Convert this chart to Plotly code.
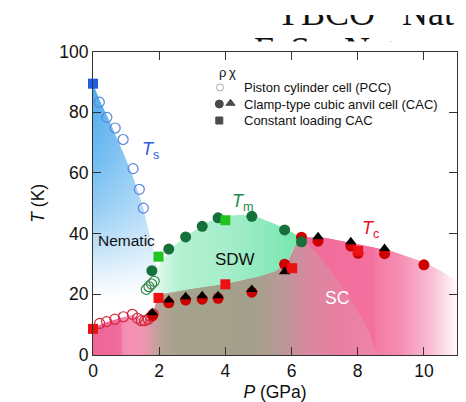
import plotly.graph_objects as go

# ---------------- data ----------------
# Ts, nematic transition
ts_pcc_p = [0.19, 0.42, 0.67, 0.91, 1.21, 1.40, 1.52]
ts_pcc_t = [83.3, 78.3, 74.8, 71.0, 61.4, 54.6, 48.4]
ts_cl_p = [0.0]
ts_cl_t = [89.4]

# Tc from PCC (open red circles)
tc_pcc_p = [0.20, 0.41, 0.66, 0.92, 1.19, 1.34, 1.46, 1.56, 1.67, 1.75, 1.82]
tc_pcc_t = [10.4, 11.0, 11.8, 12.6, 13.4, 12.1, 11.3, 11.3, 11.8, 12.6, 13.5]

# Tm from PCC chi (open green circles)
tm_pcc_p = [1.61, 1.69, 1.77, 1.85]
tm_pcc_t = [21.6, 22.5, 23.4, 24.3]

# Tm from CAC (dark green filled)
tm_cac_p = [1.78, 2.29, 2.80, 3.30, 3.78, 4.80, 5.79, 6.30]
tm_cac_t = [27.8, 34.9, 38.9, 42.4, 45.2, 45.7, 41.2, 37.3]

# Tm constant loading (green squares)
tm_cl_p = [1.98, 4.00]
tm_cl_t = [32.4, 44.4]

# Tc from CAC rho (red filled circles)
tc_cac_p = [1.80, 2.29, 2.80, 3.30, 3.78, 4.80, 5.79, 6.30, 6.80, 7.79, 8.01, 8.81, 10.0]
tc_cac_t = [13.0, 17.2, 18.1, 18.4, 18.7, 20.7, 29.9, 38.8, 37.5, 35.9, 33.5, 33.4, 29.7]

# Tc from CAC chi (black triangles)
tc_chi_p = [1.79, 2.29, 2.80, 3.30, 3.78, 4.80, 5.79, 6.80, 7.79, 8.81]
tc_chi_t = [13.9, 18.1, 19.2, 19.5, 19.5, 21.6, 27.4, 39.0, 37.3, 35.1]

# Tc constant loading (red squares)
tc_cl_p = [0.0, 1.98, 4.00, 6.02, 8.01]
tc_cl_t = [8.6, 18.8, 23.3, 28.6, 34.3]

# phase region outlines (estimated)
nem_p = [0, 0.2, 0.5, 0.9, 1.2, 1.5, 1.7, 1.85, 1.95, 2.0, 2.0, 0]
nem_t = [89.4, 84, 77, 67, 59, 49, 40, 33, 26, 18, 0, 0]

sc_p = [0, 0, 0.4, 0.9, 1.2, 1.45, 1.65, 1.8, 1.95, 2.2, 3.0, 4.0, 5.0, 5.5,
        5.85, 6.1, 6.25, 7.0, 8.0, 9.0, 10.0, 10.5, 11, 11]
sc_t = [0, 9, 10.8, 12.4, 13.2, 11.8, 11.8, 13.5, 19, 20.5, 22, 23.5, 26, 28,
        30, 36, 38.8, 38.6, 36.5, 34.3, 30.6, 27.8, 24.2, 0]

scb_p = [6.25, 6.8, 7.16, 7.5, 7.86, 8.32, 8.57, 11, 11, 10.5, 10, 9, 8, 7, 6.25]
scb_t = [38.8, 33, 28, 23, 17, 8.2, 0, 0, 24.2, 27.8, 30.6, 34.3, 36.5, 38.6, 38.8]

sdw_p = [1.65, 1.9, 2.5, 3.0, 4.0, 5.0, 5.5, 5.85, 6.05, 6.25, 6.0, 5.5, 5.0,
         4.5, 4.0, 3.5, 3.0, 2.5, 2.1, 1.85, 1.7, 1.65]
sdw_t = [21, 19.8, 20.8, 21.8, 23.5, 25.8, 27.5, 30, 35, 38.8, 40.5, 43.2, 45.3,
         46.2, 45.8, 44, 40.5, 36.5, 31.5, 27, 23.5, 21]

x_ticks = [0, 2, 4, 6, 8, 10]
y_ticks = [0, 20, 40, 60, 80, 100]

legend_labels = ["Piston cylinder cell (PCC)",
                 "Clamp-type cubic anvil cell (CAC)",
                 "Constant loading CAC"]
top_fragments = ["YBCO   Nat", "FeSe  Nat"]

FONT = "Liberation Sans, Arial, sans-serif"
PAPER_H = 355.0
PAPER_W = 364.0

fig = go.Figure()

# ---------------- shaded regions ----------------
fig.add_trace(go.Scatter(
    x=nem_p, y=nem_t, mode="none", fill="toself", hoverinfo="skip",
    fillgradient=dict(type="vertical", start=0, stop=89.4,
                      colorscale=[[0, "#ffffff"], [0.2, "#ffffff"], [0.28, "#eaf5fd"],
                                  [0.39, "#c2e2f8"], [0.54, "#93ccf4"], [0.73, "#6cbaf0"],
                                  [1, "#4daaee"]])))
fig.add_trace(go.Scatter(
    x=nem_p, y=nem_t, mode="none", fill="toself", hoverinfo="skip",
    fillgradient=dict(type="horizontal", start=0, stop=2.0,
                      colorscale=[[0, "rgba(255,255,255,0)"], [1, "rgba(255,255,255,0.4)"]])))

fig.add_trace(go.Scatter(
    x=sc_p, y=sc_t, mode="none", fill="toself", hoverinfo="skip",
    fillgradient=dict(type="horizontal", start=0, stop=11,
                      colorscale=[[0, "#ef6496"], [0.075, "#ef6c9c"], [0.082, "#f58db0"],
                                  [0.136, "#f394b2"], [0.19, "#b3a393"], [0.236, "#a4a28c"],
                                  [0.436, "#a39f8b"], [0.51, "#b59a95"], [0.59, "#d8889f"],
                                  [0.68, "#e87fa2"], [0.78, "#ed86a8"], [1, "#ffffff"]])))
fig.add_trace(go.Scatter(
    x=scb_p, y=scb_t, mode="none", fill="toself", hoverinfo="skip",
    fillgradient=dict(type="horizontal", start=6.25, stop=11,
                      colorscale=[[0, "#f06c9a"], [0.47, "#f4709e"], [0.5, "#f47ea6"],
                                  [0.62, "#f58ab0"], [0.83, "#f8bcd3"], [1, "#fffafc"]])))

fig.add_trace(go.Scatter(
    x=sdw_p, y=sdw_t, mode="none", fill="toself", hoverinfo="skip",
    fillgradient=dict(type="horizontal", start=1.6, stop=6.25,
                      colorscale=[[0, "rgba(215,248,232,0)"], [0.11, "#d2f7e4"],
                                  [0.22, "#b2f1d2"], [0.52, "#a6eecb"], [0.77, "#8eeabd"],
                                  [1, "#74e6ad"]])))

# ---------------- data markers ----------------
def sc(x, y, symbol, size, color, line_width=0):
    fig.add_trace(go.Scatter(
        x=x, y=y, mode="markers", hoverinfo="skip", cliponaxis=False,
        marker=dict(symbol=symbol, size=size, color=color,
                    line=dict(color=color, width=line_width))))

sc(ts_pcc_p, ts_pcc_t, "circle-open", 10, "#5b84dc", line_width=1.2)
sc(tc_pcc_p, tc_pcc_t, "circle-open", 10, "#d42a3e", line_width=1.2)
sc(tm_pcc_p, tm_pcc_t, "circle-open", 10, "#2f7d3c", line_width=1.1)
sc(tc_cac_p, tc_cac_t, "circle", 11, "#cc0000")
sc(tc_chi_p, tc_chi_t, "triangle-up", 10, "#000000")
sc(tm_cac_p, tm_cac_t, "circle", 11, "#16703a")
sc(ts_cl_p, ts_cl_t, "square", 10, "#1f5ce6")
sc(tc_cl_p, tc_cl_t, "square", 10, "#ee1111")
sc(tm_cl_p, tm_cl_t, "square", 10, "#22c422")

# ---------------- top text fragment, clipped to a thin window ----------------
fig.add_trace(go.Scatter(
    x=[275, 254], y=[16, 52.5], mode="text", text=top_fragments,
    textposition="middle right", cliponaxis=True, hoverinfo="skip",
    textfont=dict(family="Liberation Serif, Times New Roman, serif", size=36, color="#111111"),
    xaxis="x2", yaxis="y2"))

# ---------------- pixel-space overlay for the legend ----------------
leg_sym_x = [220, 219.3, 230.5, 219.3]
leg_sym_y = [87.5, 104, 103.3, 120.5]
leg_sym = ["circle-open", "circle", "triangle-up", "square"]
leg_col = ["#8a8a8a", "#000000", "#000000", "#000000"]
fig.add_trace(go.Scatter(
    x=leg_sym_x, y=leg_sym_y, mode="markers", hoverinfo="skip", cliponaxis=False,
    xaxis="x3", yaxis="y3",
    marker=dict(symbol=leg_sym, size=[7, 8, 8, 7], color=leg_col,
                line=dict(color=leg_col, width=1))))

ydom_top = (PAPER_H - 51.5) / PAPER_H
hidden = dict(showline=False, showticklabels=False, ticks="", showgrid=False,
              zeroline=False, automargin=False, fixedrange=True)

fig.update_layout(
    width=466, height=402,
    margin=dict(l=93, r=9, t=0, b=47, autoexpand=False),
    paper_bgcolor="white", plot_bgcolor="rgba(0,0,0,0)",
    showlegend=False,
    font=dict(family=FONT, color="#111111"),
    xaxis=dict(range=[0, 11], domain=[0, 1], tickvals=x_ticks, ticks="inside", ticklen=8,
               tickcolor="#333333", showline=True, linecolor="#333333", linewidth=1,
               mirror="ticks", showgrid=False, zeroline=False, automargin=False,
               tickfont=dict(size=17.5, family=FONT, color="#111111"),
               title=dict(text="<i>P</i> (GPa)", font=dict(size=17.5, family=FONT), standoff=8)),
    yaxis=dict(range=[0, 100], domain=[0, ydom_top], tickvals=y_ticks, ticks="inside", ticklen=8,
               tickcolor="#333333", showline=True, linecolor="#333333", linewidth=1,
               mirror="ticks", showgrid=False, zeroline=False, automargin=False,
               tickfont=dict(size=17.5, family=FONT, color="#111111"),
               title=dict(text="<i>T</i> (K)", font=dict(size=17.5, family=FONT), standoff=10)),
    xaxis2=dict(domain=[0, 1], range=[93, 457], anchor="y2", **hidden),
    yaxis2=dict(domain=[(PAPER_H - 41.5) / PAPER_H, (PAPER_H - 15) / PAPER_H],
                range=[41.5, 15], anchor="x2", **hidden),
    xaxis3=dict(domain=[0, 1], range=[93, 457], anchor="y3", visible=False, automargin=False),
    yaxis3=dict(domain=[0, 1], range=[PAPER_H, 0], anchor="x3", visible=False, automargin=False),
)

ann = [
    dict(x=1.75, y=67.5, text="<i>T</i><sub>s</sub>", font=dict(size=18, color="#2a5ce6")),
    dict(x=4.52, y=50.3, text="<i>T</i><sub>m</sub>", font=dict(size=18, color="#1f8a45")),
    dict(x=8.38, y=41.5, text="<i>T</i><sub>c</sub>", font=dict(size=18, color="#e0101e")),
    dict(x=0.1, y=37.6, text="Nematic", xanchor="left", font=dict(size=15.5, color="#111111")),
    dict(x=4.28, y=31.6, text="SDW", font=dict(size=17, color="#111111")),
    dict(x=7.36, y=18.8, text="SC", font=dict(size=17.5, color="#ffffff")),
]
for a in ann:
    a.setdefault("xanchor", "center")
    fig.add_annotation(showarrow=False, xref="x", yref="y", yanchor="middle", **a)

fig.add_annotation(x=222, y=72.5, xref="x3", yref="y3", text="ρ", showarrow=False,
                   font=dict(size=13, color="#111111"))
fig.add_annotation(x=232, y=72.5, xref="x3", yref="y3", text="χ", showarrow=False,
                   font=dict(size=13, color="#111111"))
for lab, yy in zip(legend_labels, [87.5, 104, 120.5]):
    fig.add_annotation(x=242, y=yy, xref="x3", yref="y3", text=lab, showarrow=False,
                       xanchor="left", yanchor="middle", font=dict(size=13, color="#111111"))

fig.write_html("out.html")
